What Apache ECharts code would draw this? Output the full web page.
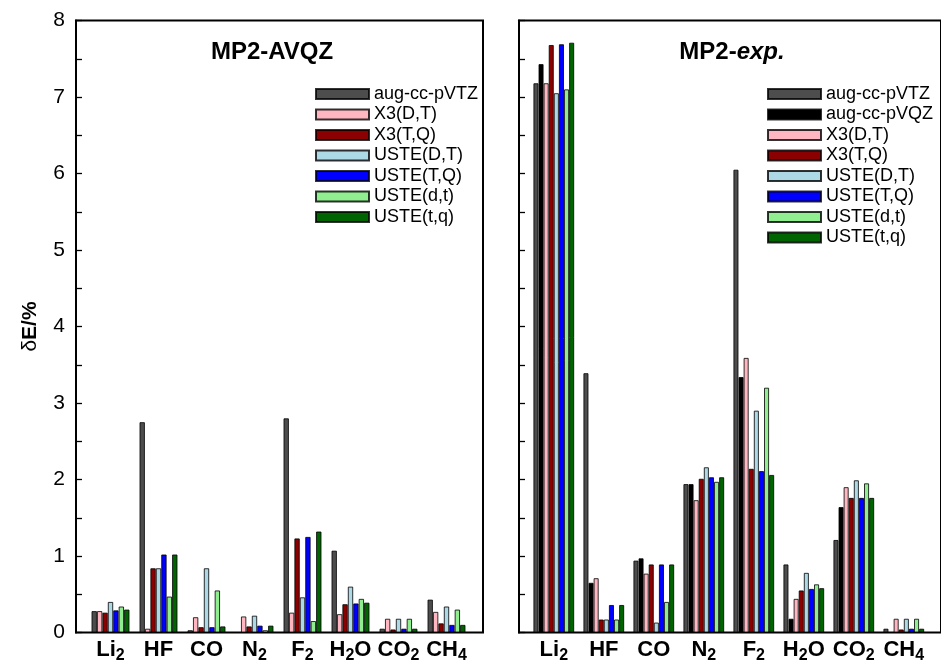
<!DOCTYPE html>
<html>
<head>
<meta charset="utf-8">
<style>
  html, body { margin: 0; padding: 0; background: #fff; }
  #chart { width: 941px; height: 664px; }
</style>
<script src="https://cdn.jsdelivr.net/npm/echarts@6/dist/echarts.min.js"></script>
</head>
<body>
<div id="chart"></div>
<script>
// Molecules along the x axis (digits are drawn as subscripts)
const categories = ['Li2', 'HF', 'CO', 'N2', 'F2', 'H2O', 'CO2', 'CH4'];
const yTicks = [0, 1, 2, 3, 4, 5, 6, 7, 8];

// Relative errors δE/% — MP2-AVQZ reference
const avqzVTZ    = [0.28, 2.75, 0.03, 0.00, 2.80, 1.07, 0.05, 0.43];
const avqzX3DT   = [0.28, 0.05, 0.20, 0.21, 0.26, 0.24, 0.18, 0.27];
const avqzX3TQ   = [0.26, 0.84, 0.07, 0.08, 1.23, 0.37, 0.04, 0.12];
const avqzUsteDT = [0.40, 0.84, 0.84, 0.22, 0.46, 0.60, 0.18, 0.34];
const avqzUsteTQ = [0.29, 1.02, 0.07, 0.09, 1.25, 0.38, 0.05, 0.10];
const avqzUstedt = [0.34, 0.47, 0.55, 0.03, 0.15, 0.44, 0.18, 0.30];
const avqzUstetq = [0.30, 1.02, 0.08, 0.09, 1.32, 0.39, 0.05, 0.10];

// Relative errors δE/% — MP2-exp. reference
const expVTZ    = [7.18, 3.39, 0.94, 1.94, 6.05, 0.89, 1.21, 0.05];
const expVQZ    = [7.43, 0.65, 0.97, 1.94, 3.34, 0.18, 1.64, 0.00];
const expX3DT   = [7.18, 0.71, 0.77, 1.73, 3.59, 0.44, 1.90, 0.18];
const expX3TQ   = [7.68, 0.17, 0.89, 2.01, 2.14, 0.55, 1.76, 0.04];
const expUsteDT = [7.05, 0.17, 0.13, 2.16, 2.90, 0.78, 1.99, 0.18];
const expUsteTQ = [7.69, 0.36, 0.89, 2.03, 2.11, 0.57, 1.76, 0.05];
const expUstedt = [7.10, 0.17, 0.40, 1.97, 3.20, 0.63, 1.95, 0.18];
const expUstetq = [7.71, 0.36, 0.89, 2.03, 2.06, 0.58, 1.76, 0.05];

const colors = {
  'aug-cc-pVTZ': '#4d4d4d',
  'aug-cc-pVQZ': '#000000',
  'X3(D,T)': '#ffb6c1',
  'X3(T,Q)': '#8b0000',
  'USTE(D,T)': '#add8e6',
  'USTE(T,Q)': '#0000ff',
  'USTE(d,t)': '#90ee90',
  'USTE(t,q)': '#006400'
};

const leftSets = [
  ['aug-cc-pVTZ', avqzVTZ], ['X3(D,T)', avqzX3DT], ['X3(T,Q)', avqzX3TQ],
  ['USTE(D,T)', avqzUsteDT], ['USTE(T,Q)', avqzUsteTQ],
  ['USTE(d,t)', avqzUstedt], ['USTE(t,q)', avqzUstetq]
];
const rightSets = [
  ['aug-cc-pVTZ', expVTZ], ['aug-cc-pVQZ', expVQZ], ['X3(D,T)', expX3DT], ['X3(T,Q)', expX3TQ],
  ['USTE(D,T)', expUsteDT], ['USTE(T,Q)', expUsteTQ],
  ['USTE(d,t)', expUstedt], ['USTE(t,q)', expUstetq]
];

const FONT = '"Liberation Sans", Arial, Helvetica, sans-serif';
const TOP = 20.5, HEIGHT = 612;

function molLabel(name) {
  return name.replace(/([A-Za-z]+)(\d?)/g, function (m, el, n) {
    return '{m|' + el + '}' + (n ? '{s|' + n + '}' : '');
  });
}

const catLabel = {
  interval: 0,
  margin: 6,
  formatter: molLabel,
  rich: {
    m: { fontFamily: FONT, fontWeight: 'bold', fontSize: 22, color: '#000', verticalAlign: 'top', lineHeight: 24 },
    s: { fontFamily: FONT, fontWeight: 'bold', fontSize: 16, color: '#000', verticalAlign: 'top', lineHeight: 24, padding: [9, 0, 0, 0] }
  }
};

function frameY(showLabels) {
  return {
    type: 'value', min: 0, max: 8, interval: 0.5,
    axisLine: { show: true, lineStyle: { color: '#000', width: 2 } },
    axisTick: { show: true, inside: true, length: 6, lineStyle: { color: '#000', width: 1.3 } },
    splitLine: { show: false },
    axisLabel: {
      show: showLabels, margin: 11, fontFamily: FONT, fontSize: 21, color: '#000',
      formatter: function (v) { return yTicks.indexOf(v) >= 0 ? String(v) : ''; }
    }
  };
}

function bars(sets, xi, width) {
  return sets.map(function (s) {
    return {
      type: 'bar', name: s[0], data: s[1],
      xAxisIndex: xi, yAxisIndex: xi,
      barWidth: width, barGap: '0%',
      itemStyle: { color: colors[s[0]], borderColor: 'rgba(0,0,0,0.8)', borderWidth: 1 },
      emphasis: { disabled: true },
      animation: false
    };
  });
}

function legendFor(sets, left) {
  return {
    orient: 'vertical', left: left, top: 80,
    itemWidth: 53, itemHeight: 10, itemGap: 2.5,
    icon: 'rect',
    data: sets.map(function (s) { return s[0]; }),
    textStyle: { fontFamily: FONT, fontSize: 18, color: '#000', lineHeight: 18, padding: [0, 0, 0, 0] },
    selectedMode: false
  };
}

const chart = echarts.init(document.getElementById('chart'), null, { renderer: 'canvas' });
chart.setOption({
  animation: false,
  grid: [
    { left: 76, top: TOP, width: 407, height: HEIGHT, show: true, borderColor: '#000', borderWidth: 2, backgroundColor: 'transparent' },
    { left: 86.5, top: TOP, width: 384, height: HEIGHT },
    { left: 519, top: TOP, width: 440, height: HEIGHT, show: true, borderColor: '#000', borderWidth: 2, backgroundColor: 'transparent' },
    { left: 528.8, top: TOP, width: 400, height: HEIGHT }
  ],
  xAxis: [
    { gridIndex: 0, type: 'value', show: false, min: 0, max: 1 },
    { gridIndex: 1, type: 'category', data: categories, boundaryGap: true,
      axisLine: { show: false }, axisTick: { show: false }, axisLabel: catLabel },
    { gridIndex: 2, type: 'value', show: false, min: 0, max: 1 },
    { gridIndex: 3, type: 'category', data: categories, boundaryGap: true,
      axisLine: { show: false }, axisTick: { show: false }, axisLabel: catLabel }
  ],
  yAxis: [
    Object.assign(frameY(true), {
      gridIndex: 0, name: '{d|δ}{e|E/%}', nameLocation: 'middle', nameGap: 35, nameRotate: 90,
      nameTextStyle: { rich: {
        d: { fontFamily: FONT, fontSize: 21, color: '#000' },
        e: { fontFamily: FONT, fontSize: 21, fontWeight: 'bold', color: '#000' }
      } }
    }),
    { gridIndex: 1, type: 'value', min: 0, max: 8, show: false },
    Object.assign(frameY(false), { gridIndex: 2 }),
    { gridIndex: 3, type: 'value', min: 0, max: 8, show: false }
  ],
  legend: [legendFor(leftSets, 310), legendFor(rightSets, 762)],
  series: bars(leftSets, 1, 5.43).concat(bars(rightSets, 3, 5.1)),
  graphic: [
    { type: 'text', x: 272, y: 52, silent: true,
      style: { text: 'MP2-AVQZ', align: 'center', verticalAlign: 'middle',
        font: 'bold 24px ' + FONT, fill: '#000' } },
    { type: 'text', x: 732, y: 52, silent: true,
      style: { text: '{a|MP2-}{b|exp.}', align: 'center', verticalAlign: 'middle', fill: '#000',
        rich: {
          a: { fontFamily: FONT, fontWeight: 'bold', fontSize: 24, fill: '#000' },
          b: { fontFamily: FONT, fontWeight: 'bold', fontStyle: 'italic', fontSize: 24, fill: '#000' }
        } } }
  ]
});
</script>
</body>
</html>
